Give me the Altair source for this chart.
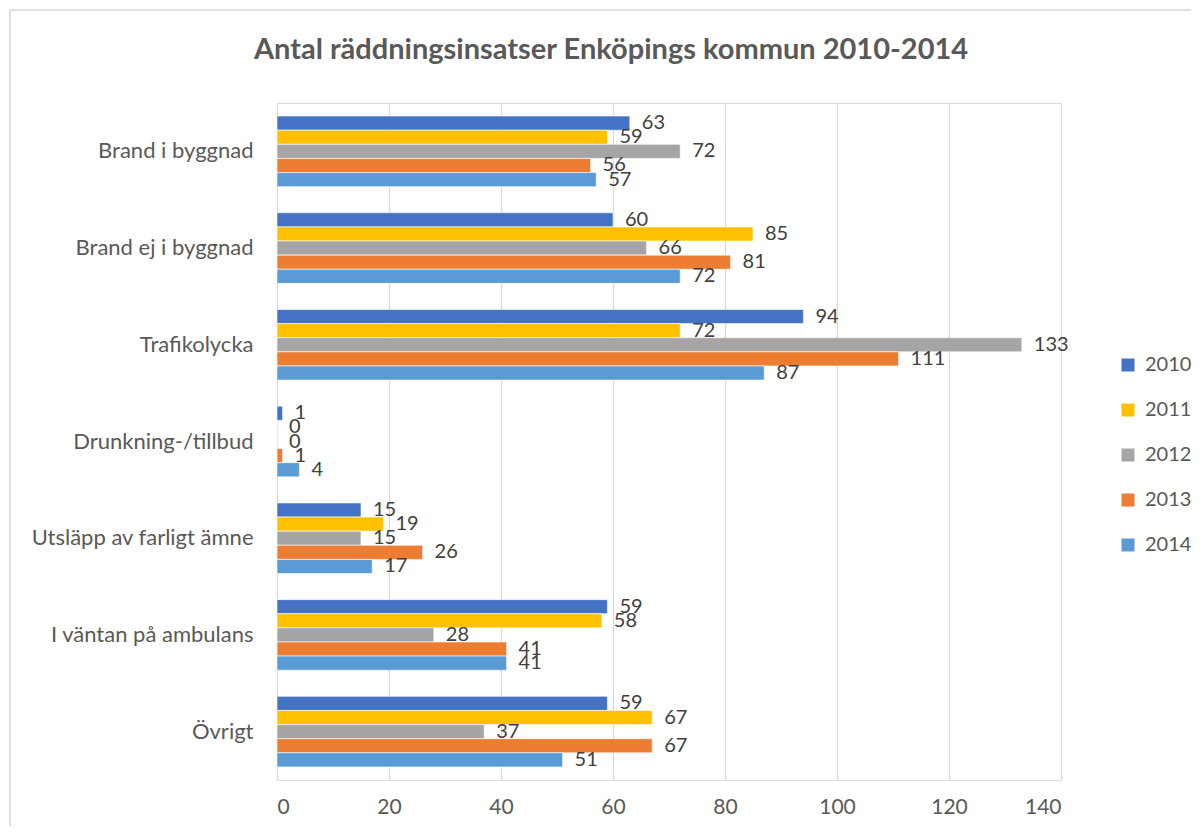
import altair as alt
import pandas as pd

categories = ["Brand i byggnad", "Brand ej i byggnad", "Trafikolycka", "Drunkning-/tillbud",
              "Utsläpp av farligt ämne", "I väntan på ambulans", "Övrigt"]
years = ["2010", "2011", "2012", "2013", "2014"]
v2010 = [63, 60, 94, 1, 15, 59, 59]
v2011 = [59, 85, 72, 0, 19, 58, 67]
v2012 = [72, 66, 133, 0, 15, 28, 37]
v2013 = [56, 81, 111, 1, 26, 41, 67]
v2014 = [57, 72, 87, 4, 17, 41, 51]
colors = ["#4472C4", "#FFC000", "#A5A5A5", "#ED7D31", "#5B9BD5"]
x_ticks = [0, 20, 40, 60, 80, 100, 120, 140]
title_text = "Antal räddningsinsatser Enköpings kommun 2010-2014"

rows = []
for yr, vals in zip(years, [v2010, v2011, v2012, v2013, v2014]):
    for c, v in zip(categories, vals):
        rows.append({"Kategori": c, "År": yr, "Antal": v})
df = pd.DataFrame(rows)

FONT = "Lato"
GREY = "#595959"

y_enc = alt.Y("Kategori:N", sort=categories, title=None,
              scale=alt.Scale(paddingInner=0.27, paddingOuter=0.135),
              axis=alt.Axis(ticks=False, domain=False, labelPadding=24, labelFontSize=22,
                            labelColor=GREY, labelFont=FONT, grid=False, labelLimit=400))
yoff = alt.YOffset("År:N", sort=years, scale=alt.Scale(paddingInner=0, paddingOuter=0))
x_enc = alt.X("Antal:Q", title=None,
              scale=alt.Scale(domain=[0, 140], nice=False),
              axis=alt.Axis(values=x_ticks, grid=True, gridColor="#d9d9d9", gridWidth=1.3,
                            domain=False, ticks=False, labelPadding=16, labelFontSize=21,
                            labelColor=GREY, labelFont=FONT))

base = alt.Chart(df)
bars = base.mark_bar(stroke="white", strokeWidth=0.6).encode(
    x=x_enc, y=y_enc, yOffset=yoff,
    color=alt.Color("År:N", sort=years, title=None,
                    scale=alt.Scale(domain=years, range=colors),
                    legend=alt.Legend(orient="none", legendX=841, legendY=252,
                                      symbolType="square", symbolSize=169,
                                      symbolStrokeWidth=0, labelFontSize=20,
                                      labelColor=GREY, labelFont=FONT,
                                      rowPadding=25, labelOffset=7)),
)
labels = base.mark_text(align="left", baseline="middle", dx=12, fontSize=20,
                        color="#404040", font=FONT).encode(
    x="Antal:Q", y=alt.Y("Kategori:N", sort=categories), yOffset=yoff,
    text="Antal:Q",
)
one = alt.Chart(pd.DataFrame({"t": [title_text]}))
frame = one.mark_rect(fill=None, stroke="#d9d9d9", strokeWidth=1.5).encode(
    x=alt.value(-267), x2=alt.value(960), y=alt.value(-93), y2=alt.value(780))
title = one.mark_text(fontSize=29, fontWeight="bold", color=GREY, font=FONT,
                      align="center", baseline="middle").encode(
    x=alt.value(334), y=alt.value(-53), text="t:N")

chart = alt.layer(frame, bars, labels, title).properties(
    width=784, height=677,
    padding={"left": 269, "top": 95, "right": 130, "bottom": 46},
    autosize=alt.AutoSizeParams(type="none"),
).configure_view(stroke=None).configure(background="white")

chart.save("out.html", embed_options={"renderer": "svg", "actions": False})
